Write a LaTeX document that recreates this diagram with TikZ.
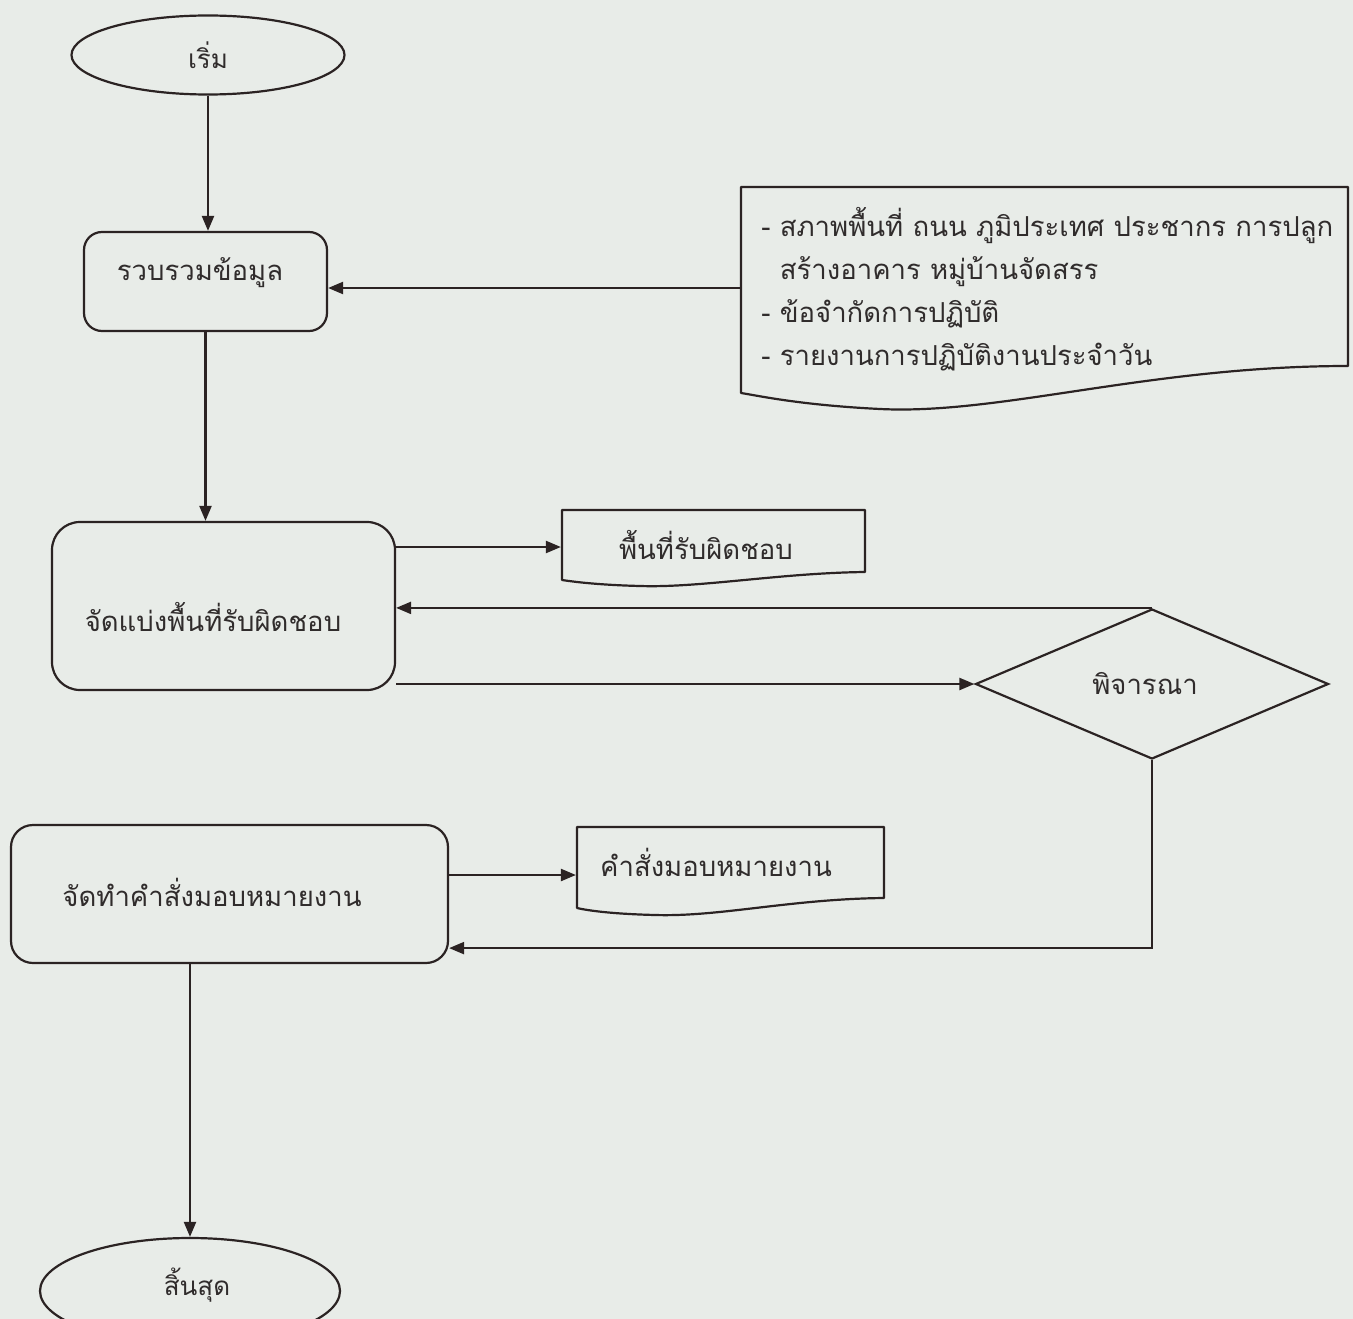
\documentclass[tikz,border=0pt]{standalone}
\usepackage{fontspec}
\newfontfamily\thai[Script=Thai]{Loma}
\usetikzlibrary{shapes.geometric,arrows.meta,calc}
\definecolor{paper}{HTML}{E8ECE8}
\definecolor{ink}{HTML}{2B2323}
\definecolor{txt}{HTML}{302C2C}
\begin{document}
\begin{tikzpicture}[x=1pt,y=-1pt,
  line width=2.2pt,
  every node/.style={text=txt,font=\thai\fontsize{27.5}{33}\selectfont},
  smalltext/.style={font=\thai\fontsize{26}{32}\selectfont},
  terminal/.style={ellipse,draw=ink,inner sep=0pt},
  procbox/.style={rectangle,draw=ink,rounded corners=26pt,inner sep=0pt},
  docnode/.style={rectangle,draw=none,inner sep=0pt},
  decision/.style={diamond,draw=ink,inner sep=0pt},
  docline/.style={draw=ink,line join=round},
  arr/.style={draw=ink,-{Triangle[length=15pt,width=12pt]}},
  conn/.style={draw=ink}]
\useasboundingbox (0,0) rectangle (1353,1319);
\fill[paper] (0,0) rectangle (1353,1319);
\clip (0,0) rectangle (1353,1319);

% terminals
\node[terminal,smalltext,minimum width=273pt,minimum height=79pt] (start) at (208,55) {เริ่ม};
\node[terminal,minimum width=300pt,minimum height=106pt] (stop) at (190,1291) {};
\node[smalltext] (stoptext) at (197,1285) {สิ้นสุด};

% process boxes
\node[procbox,minimum width=243pt,minimum height=99pt,rounded corners=18pt] (gather) at (205.5,281.5) {};
\node (gathertext) at (200,273) {รวบรวมข้อมูล};
\node[procbox,minimum width=343pt,minimum height=168pt,rounded corners=28pt] (assign) at (223.5,606) {};
\node (assigntext) at (213,617) {จัดแบ่งพื้นที่รับผิดชอบ};
\node[procbox,minimum width=437pt,minimum height=138pt,rounded corners=22pt] (dotask) at (229.5,894) {};
\node (dotasktext) at (212,892) {จัดทำคำสั่งมอบหมายงาน};

% decision
\node[decision,minimum width=353pt,minimum height=150pt] (consider) at (1152,684) {};
\node (considertext) at (1145,684) {พิจารณา};

% document shapes
\node[docnode,minimum width=607pt,minimum height=202pt] (info) at (1044.5,288) {};
\draw[docline] (741,187) -- (1348,187) -- (1348,366)
  .. controls (1150,366) and (1000,415) .. (880,409)
  .. controls (800,405) and (760,396) .. (741,393) -- cycle;
\node[anchor=west,align=left,font=\thai\fontsize{27.5}{43}\selectfont] (infotext) at (757,289)
  {- สภาพพื้นที่ ถนน ภูมิประเทศ ประชากร การปลูก\\
   \phantom{- }สร้างอาคาร หมู่บ้านจัดสรร\\
   - ข้อจำกัดการปฏิบัติ\\
   - รายงานการปฏิบัติงานประจำวัน};

\node[docnode,minimum width=303pt,minimum height=74pt] (area) at (713.5,547) {};
\draw[docline] (562,510) -- (865,510) -- (865,572)
  .. controls (780,573) and (700,588) .. (640,586)
  .. controls (600,585) and (575,582) .. (562,580) -- cycle;
\node (areatext) at (706,545) {พื้นที่รับผิดชอบ};

\node[docnode,minimum width=307pt,minimum height=96pt] (order) at (730.5,875) {};
\draw[docline] (577,827) -- (884,827) -- (884,898)
  .. controls (790,899) and (720,917) .. (655,915)
  .. controls (615,914) and (590,911) .. (577,908) -- cycle;
\node (ordertext) at (716,862) {คำสั่งมอบหมายงาน};

% connectors
\draw[arr] (start.south) -- (start.south |- gather.north);
\draw[arr] (info.west) -- (info.west -| gather.east);
\draw[arr] (gather.south) -- (gather.south |- assign.north);
\draw[arr] (area.west -| assign.east) -- (area.west);
\draw[arr] (consider.north) -- (consider.north -| assign.east);
\draw[arr] (consider.west -| assign.east) -- (consider.west);
\draw[arr] (consider.south) |- ($(dotask.south east)+(0,-16)$);
\draw[arr] (order.west -| dotask.east) -- (order.west);
\draw[arr] (dotask.south -| stop.north) -- (stop.north);
\end{tikzpicture}
\end{document}
